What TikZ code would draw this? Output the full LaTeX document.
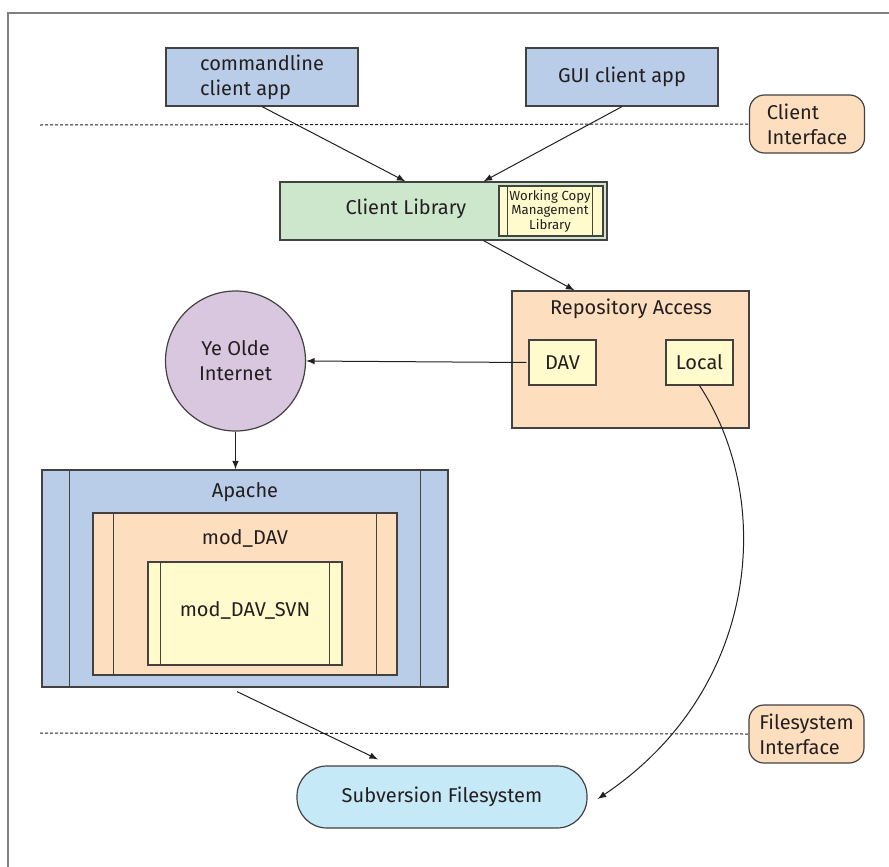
\documentclass[tikz,border=0pt]{standalone}
\usepackage{fontspec}
\setmainfont{Fira Sans}
\definecolor{appblue}{HTML}{B9CDE8}
\definecolor{libgreen}{HTML}{CDE7CD}
\definecolor{modyellow}{HTML}{FFFBCC}
\definecolor{raorange}{HTML}{FDDFBF}
\definecolor{netpurple}{HTML}{D9C7E0}
\definecolor{fsblue}{HTML}{C6E9F8}
\definecolor{ink}{HTML}{231F20}
\begin{document}
\begin{tikzpicture}[x=0.5pt,y=-0.5pt,>=latex,
    every node/.style={text=ink,font=\fontsize{10}{12.5}\selectfont},
    box/.style={draw=ink!85,line width=0.6pt,inner sep=0pt},
    app/.style={box,fill=appblue,minimum width=96pt,minimum height=29pt,align=left},
    tag/.style={box,fill=raorange,rounded corners=7.5pt,minimum width=57.5pt,minimum height=29pt,align=left},
    part/.style={box,fill=modyellow,minimum width=33.5pt,minimum height=22.5pt},
    side/.style={draw=ink!85,line width=0.6pt},
    sep/.style={dash pattern=on 1.5pt off 1pt,line width=0.5pt,draw=ink},
    link/.style={->,draw=ink,line width=0.5pt}]
\useasboundingbox (0,0) rectangle (889,867);
\draw[gray,line width=1pt] (889,13) -- (8,13) -- (8,867);

% client side
\node[app] (cmd) at (262,77) {commandline\\client app};
\node[app] (gui) at (622,77) {GUI client app};
\node[tag] (cif) at (807,124) {Client\\Interface};
\draw[sep] (40,125) -- (cif.west);

\node[box,fill=libgreen,minimum width=163.5pt,minimum height=29pt] (clib) at (443.5,211) {};
\node (clibtxt) at (406,209) {Client Library};
\node[box,fill=modyellow,minimum width=52pt,minimum height=25pt] (wc) at (551,211) {};
\draw[side] ([xshift=4.5pt]wc.north west) -- ([xshift=4.5pt]wc.south west);
\draw[side] ([xshift=-5.5pt]wc.north east) -- ([xshift=-5.5pt]wc.south east);
\node[align=center,font=\fontsize{6.6}{5.5}\selectfont] (wctxt) at (550,211) {Working Copy\\Management\\Library};

\draw[link] (cmd.south) -- ([xshift=-19pt]clib.north);
\draw[link] (gui.south) -- ([xshift=20pt]clib.north);

% repository access
\node[box,fill=raorange,minimum width=118.5pt,minimum height=68.5pt] (ra) at (630.5,359.5) {};
\node (ratxt) at (631,309) {Repository Access};
\node[part] (dav) at (562.5,362.5) {DAV};
\node[part] (local) at (699.5,362.5) {Local};
\draw[link] ([xshift=20pt]clib.south) -- ([xshift=-28pt]ra.north);

\node[circle,box,fill=netpurple,minimum size=70pt,align=center] (net) at (235.5,361) {Ye Olde\\Internet};
\draw[link] ([xshift=-1pt]dav.west) -- (net.east);

% apache
\node[box,fill=appblue,minimum width=203pt,minimum height=108.5pt] (apache) at (245,578.5) {};
\draw[side] ([xshift=14pt]apache.north west) -- ([xshift=14pt]apache.south west);
\draw[side] ([xshift=-14pt]apache.north east) -- ([xshift=-14pt]apache.south east);
\node (apachetxt) at (245,492) {Apache};
\node[box,fill=raorange,minimum width=152pt,minimum height=81pt] (moddav) at (245,594) {};
\draw[side] ([xshift=10.5pt]moddav.north west) -- ([xshift=10.5pt]moddav.south west);
\draw[side] ([xshift=-10.5pt]moddav.north east) -- ([xshift=-10.5pt]moddav.south east);
\node (moddavtxt) at (245,538) {mod\_DAV};
\node[box,fill=modyellow,minimum width=97pt,minimum height=51.5pt] (modsvn) at (245,613.5) {};
\draw[side] ([xshift=6.5pt]modsvn.north west) -- ([xshift=6.5pt]modsvn.south west);
\draw[side] ([xshift=-6.5pt]modsvn.north east) -- ([xshift=-6.5pt]modsvn.south east);
\node (modsvntxt) at (245,610) {mod\_DAV\_SVN};
\draw[link] (net.south) -- (net.south |- apache.north);

% filesystem side
\node[tag] (fsif) at (806.5,734) {Filesystem\\Interface};
\draw[sep] (40,733) -- (fsif.west);
\node[box,fill=fsblue,rounded corners=15pt,minimum width=145pt,minimum height=31pt] (fs) at (442,797) {Subversion Filesystem};

\draw[link] ([xshift=-4pt,yshift=-2pt]apache.south) -- ([xshift=-32pt,yshift=3pt]fs.north);
\draw[link] (local.south) .. controls (775,500) and (760,690) .. ([xshift=5pt,yshift=-1pt]fs.east);
\end{tikzpicture}
\end{document}
